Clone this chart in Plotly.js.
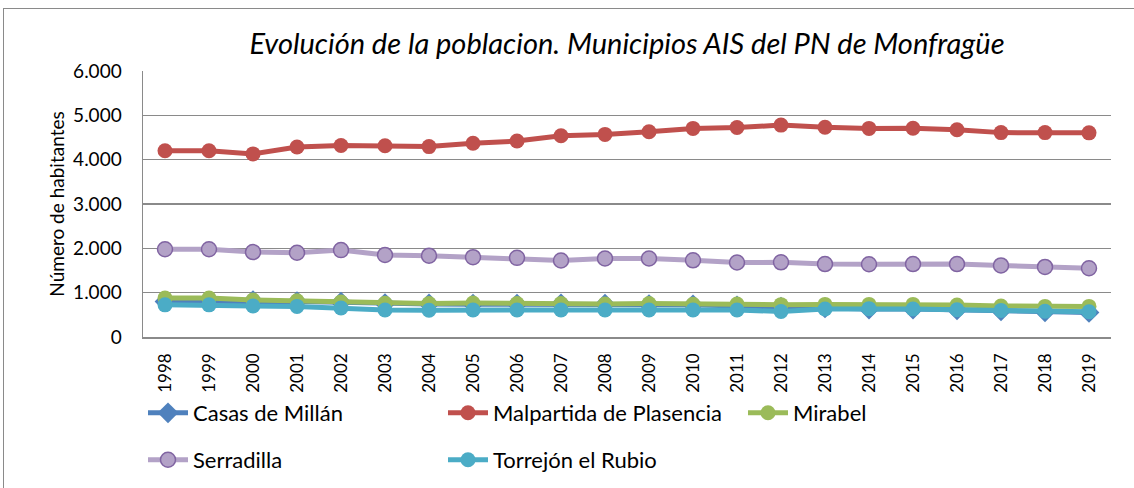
<!DOCTYPE html>
<html>
<head>
<meta charset="utf-8">
<script src="https://cdn.plot.ly/plotly-3.0.1.min.js"></script>
<style>
  html, body { margin: 0; padding: 0; background: #fff; overflow: hidden; }
  #wrap { position: relative; width: 1134px; height: 488px; overflow: hidden; }
  #chart { position: absolute; left: 0; top: 0; width: 1134px; height: 488px; }
  #frame { position: absolute; left: 3px; top: 8px; width: 1300px; height: 700px;
           border: 1px solid #8a8a8a; box-sizing: border-box; pointer-events: none; }
</style>
</head>
<body>
<div id="wrap">
  <div id="chart"></div>
  <div id="frame"></div>
</div>
<script>
const years = ["1998","1999","2000","2001","2002","2003","2004","2005","2006","2007","2008",
               "2009","2010","2011","2012","2013","2014","2015","2016","2017","2018","2019"];

const casasDeMillan = [800, 800, 820, 800, 785, 755, 745, 740, 740, 745, 740,
                       730, 725, 700, 675, 660, 630, 630, 615, 590, 570, 555];
const malpartida = [4200, 4200, 4130, 4285, 4320, 4315, 4295, 4370, 4420, 4540, 4570,
                    4630, 4705, 4725, 4780, 4730, 4705, 4710, 4675, 4610, 4610, 4605];
const mirabel = [880, 880, 835, 815, 790, 760, 755, 765, 755, 755, 745,
                 755, 740, 745, 730, 735, 735, 735, 720, 700, 690, 690];
const serradilla = [1980, 1980, 1915, 1900, 1960, 1850, 1835, 1800, 1785, 1725, 1770,
                    1770, 1730, 1680, 1685, 1645, 1640, 1645, 1645, 1615, 1580, 1550];
const torrejon = [725, 725, 700, 690, 655, 610, 605, 610, 610, 610, 610,
                  610, 610, 610, 575, 630, 640, 630, 615, 600, 580, 570];

const seriesNames = ["Casas de Millán", "Malpartida de Plasencia", "Mirabel", "Serradilla", "Torrejón el Rubio"];

const FONT = "Lato, 'Open Sans', sans-serif";

const traces = [
  { name: seriesNames[0], y: casasDeMillan, color: "#4f81bd", symbol: "diamond", size: 16, legend: "legend" },
  { name: seriesNames[1], y: malpartida, color: "#c0504d", symbol: "circle", size: 15, legend: "legend" },
  { name: seriesNames[2], y: mirabel, color: "#9bbb59", symbol: "circle", size: 15, legend: "legend" },
  { name: seriesNames[3], y: serradilla, color: "#b3a2c7", symbol: "circle", size: 15, legend: "legend2",
    mline: { color: "#8064a2", width: 1.5 } },
  { name: seriesNames[4], y: torrejon, color: "#4bacc6", symbol: "circle", size: 15, legend: "legend2" }
].map(s => ({
  type: "scatter",
  mode: "lines+markers",
  name: s.name,
  x: years,
  y: s.y,
  legend: s.legend,
  line: { color: s.color, width: 5 },
  marker: { color: s.color, symbol: s.symbol, size: s.size,
            line: s.mline || { width: 0 } },
  hoverinfo: "x+y+name"
}));

const legendCommon = {
  orientation: "h",
  xref: "container", yref: "container",
  xanchor: "left",
  yanchor: "middle",
  entrywidth: 245, entrywidthmode: "pixels",
  itemwidth: 40,
  font: { family: FONT, size: 22, color: "#000" },
  bgcolor: "rgba(0,0,0,0)",
  traceorder: "normal"
};

const layout = {
  width: 1134,
  height: 488,
  separators: ",.",
  paper_bgcolor: "rgba(0,0,0,0)",
  plot_bgcolor: "#ffffff",
  margin: { l: 143, r: 23, t: 71, b: 151, autoexpand: false },
  font: { family: FONT, color: "#000000", size: 19 },
  title: {
    text: "<i>Evolución de la poblacion. Municipios AIS del PN de Monfragüe</i>",
    font: { family: FONT, size: 29, color: "#000000" },
    x: 0.5, xref: "paper", xanchor: "center",
    y: 0.91, yref: "container", yanchor: "middle"
  },
  xaxis: {
    type: "category",
    range: [-0.5, years.length - 0.5],
    tickangle: -90,
    showgrid: false,
    showline: true,
    linecolor: "#8a8a8a",
    linewidth: 1.5,
    ticks: "",
    ticklabelstandoff: 8,
    tickfont: { family: FONT, size: 17, color: "#000" },
    fixedrange: true
  },
  yaxis: {
    range: [0, 6000],
    dtick: 1000,
    tickformat: ",d",
    showgrid: true,
    gridcolor: "#8a8a8a",
    gridwidth: 1.5,
    zeroline: false,
    showline: true,
    linecolor: "#8a8a8a",
    linewidth: 1.5,
    ticks: "",
    ticklabelstandoff: 16,
    tickfont: { family: FONT, size: 19, color: "#000" },
    title: { text: "Número de habitantes", font: { family: FONT, size: 19, color: "#000" }, standoff: 3 },
    fixedrange: true
  },
  legend: Object.assign({}, legendCommon, { x: 0.1261, y: 0.1537 }),
  legend2: Object.assign({}, legendCommon, { x: 0.1261, y: 0.0574 }),
  showlegend: true
};

Plotly.newPlot("chart", traces, layout, { displayModeBar: false, staticPlot: true });
</script>
</body>
</html>
